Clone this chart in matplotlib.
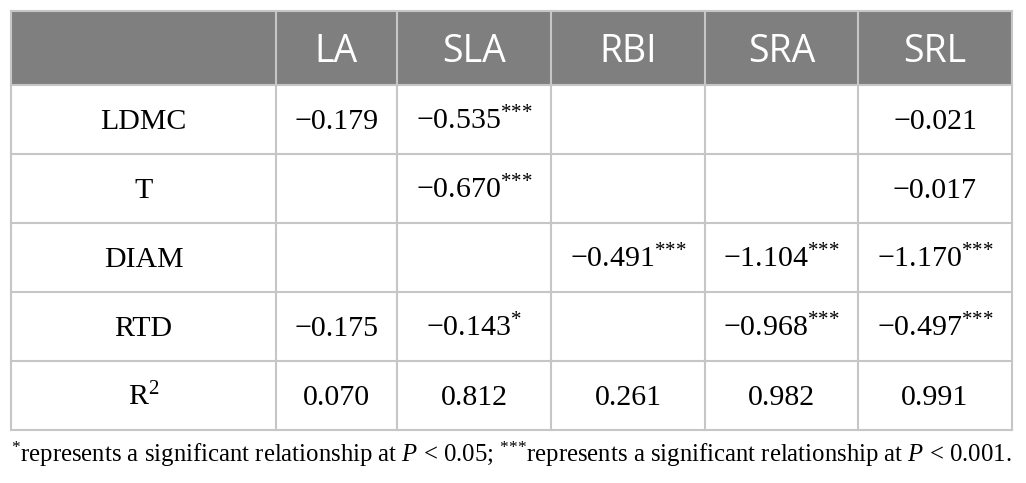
import matplotlib.pyplot as plt
from matplotlib.patches import Rectangle

plt.rcParams['mathtext.fontset'] = 'custom'
plt.rcParams['mathtext.rm'] = 'Liberation Serif'
plt.rcParams['mathtext.it'] = 'Liberation Serif:italic'

# data
col_labels = ['LA', 'SLA', 'RBI', 'SRA', 'SRL']
row_labels = ['LDMC', 'T', 'DIAM', 'RTD', 'R$^2$']
coefs = [
    [-0.179, -0.535, None, None, -0.021],
    [None, -0.670, None, None, -0.017],
    [None, None, -0.491, -1.104, -1.170],
    [-0.175, -0.143, None, -0.968, -0.497],
    [0.070, 0.812, 0.261, 0.982, 0.991],
]
stars = [
    [0, 3, 0, 0, 0],
    [0, 3, 0, 0, 0],
    [0, 0, 3, 3, 3],
    [0, 1, 0, 3, 3],
    [0, 0, 0, 0, 0],
]


def sup_stars(n):
    # braces stop mathtext from spacing '*' as a binary operator
    return '$^{' + '{*}' * n + '}$'


note = (sup_stars(1) + 'represents a significant relationship at $\\mathit{P}$ < 0.05; '
        + sup_stars(3) + 'represents a significant relationship at $\\mathit{P}$ < 0.001.')

# layout in pixels
col_x = [11, 276, 397, 551, 705, 858, 1012]
row_y = [11, 85, 154, 223, 292, 361, 430]
grid_c = '#c6c6c6'
head_c = '#7f7f7f'

fig = plt.figure(figsize=(10.26, 4.83), dpi=100)
ax = fig.add_axes([0, 0, 1, 1])
ax.set_xlim(0, 1026)
ax.set_ylim(483, 0)
ax.axis('off')

# header
ax.add_patch(Rectangle((col_x[0], row_y[0]), col_x[-1] - col_x[0], row_y[1] - row_y[0],
                       facecolor=head_c, edgecolor='none'))
for j, lab in enumerate(col_labels):
    xc = (col_x[j + 1] + col_x[j + 2]) / 2
    ax.text(xc, 62, lab, ha='center', va='baseline',
            color='white', fontsize=27, family='Open Sans')

# grid lines
for y in row_y:
    ax.plot([col_x[0], col_x[-1]], [y, y], color=grid_c, lw=1.5)
for x in col_x:
    ax.plot([x, x], [row_y[0], row_y[-1]], color=grid_c, lw=1.5)

# body
for i, lab in enumerate(row_labels):
    yb = row_y[i + 1] + 44
    ax.text((col_x[0] + col_x[1]) / 2, yb, lab, ha='center', va='baseline',
            fontsize=21.5, family='Liberation Serif')
    for j, v in enumerate(coefs[i]):
        if v is None:
            continue
        s = f'{v:.3f}'.replace('-', '\u2212')
        if stars[i][j]:
            s += sup_stars(stars[i][j])
        xc = (col_x[j + 1] + col_x[j + 2]) / 2
        ax.text(xc, yb, s, ha='center', va='baseline', fontsize=21.5,
                family='Liberation Serif')

ax.text(col_x[0], 462, note, ha='left', va='baseline', fontsize=17.8,
        family='Liberation Serif')

fig.savefig('out.png', dpi=100)
